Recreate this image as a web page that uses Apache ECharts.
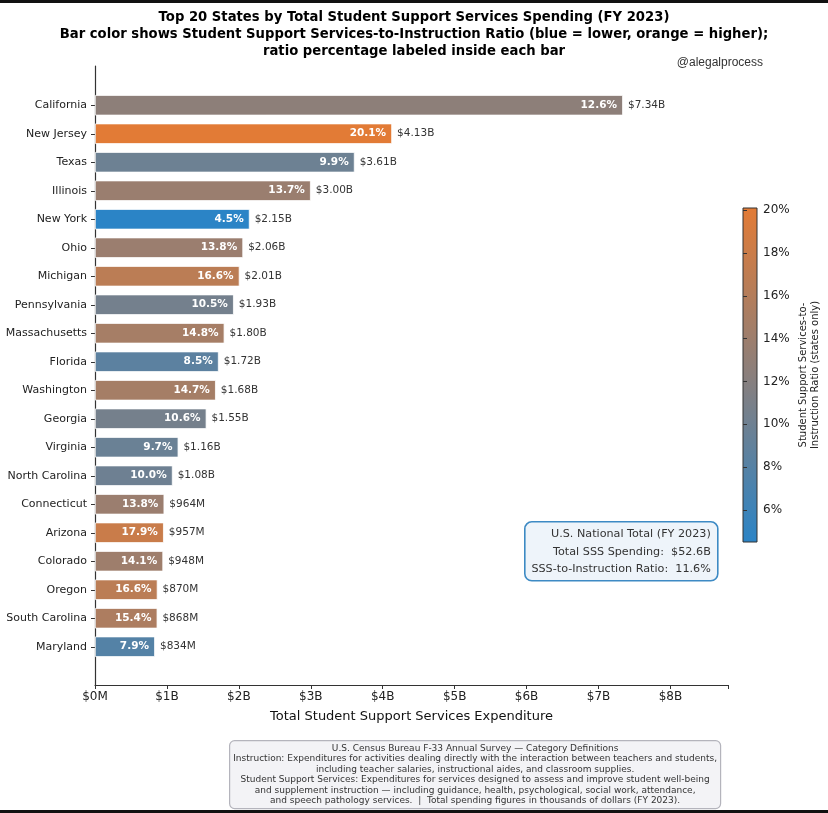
<!DOCTYPE html>
<html>
<head>
<meta charset="utf-8">
<script src="https://cdn.jsdelivr.net/npm/echarts@6/dist/echarts.min.js"></script>
<style>
  html, body { margin: 0; padding: 0; background: #fff; }
  #chart { width: 828px; height: 813px; }
</style>
</head>
<body>
<div id="chart"></div>
<script>
// top 20 states, spending in $B and SSS-to-instruction ratio in %
const states = ['California', 'New Jersey', 'Texas', 'Illinois', 'New York', 'Ohio', 'Michigan',
    'Pennsylvania', 'Massachusetts', 'Florida', 'Washington', 'Georgia', 'Virginia', 'North Carolina',
    'Connecticut', 'Arizona', 'Colorado', 'Oregon', 'South Carolina', 'Maryland'];
const spending = [7.34, 4.13, 3.61, 3.00, 2.15, 2.06, 2.01, 1.93, 1.80, 1.72, 1.68, 1.55, 1.16, 1.08,
    0.964, 0.957, 0.948, 0.870, 0.868, 0.834];
const ratio = [12.6, 20.1, 9.9, 13.7, 4.5, 13.8, 16.6, 10.5, 14.8, 8.5, 14.7, 10.6, 9.7, 10.0,
    13.8, 17.9, 14.1, 16.6, 15.4, 7.9];
const xTicks = [0, 1, 2, 3, 4, 5, 6, 7, 8];
const cbarTicks = [6, 8, 10, 12, 14, 16, 18, 20];

const cmap = ['#2b84c6', '#8a7f7c', '#e27b36'];
const font = 'DejaVu Sans';

const rows = states.map((s, i) => [spending[i], s, ratio[i]]);
const money = v => v >= 1 ? '$' + v.toFixed(2) + 'B' : '$' + Math.round(v * 1000) + 'M';

const chart = echarts.init(document.getElementById('chart'), null, { renderer: 'canvas' });

chart.setOption({
    backgroundColor: '#fff',
    animation: false,
    title: [
        {
            text: 'Top 20 States by Total Student Support Services Spending (FY 2023)\n' +
                'Bar color shows Student Support Services-to-Instruction Ratio (blue = lower, orange = higher);\n' +
                'ratio percentage labeled inside each bar',
            left: 'center', top: 4,
            textStyle: { fontFamily: font, fontSize: 13.2, fontWeight: 'bold', color: '#000', lineHeight: 17, align: 'center' }
        },
        {
            text: '@alegalprocess',
            right: 60, top: 52,
            textStyle: { fontFamily: 'Liberation Sans', fontSize: 12, fontWeight: 'normal', color: '#333' }
        }
    ],
    grid: [
        { left: 95, right: 100, top: 66, bottom: 128 },
        { left: 95, right: 100, top: 91, height: 570 },
        { left: 743, width: 14, top: 208, height: 334, show: true, borderColor: '#333', borderWidth: 1,
          backgroundColor: new echarts.graphic.LinearGradient(0, 1, 0, 0, [
              { offset: 0, color: cmap[0] }, { offset: 0.5, color: cmap[1] }, { offset: 1, color: cmap[2] }
          ]) }
    ],
    xAxis: [
        {
            gridIndex: 0, type: 'value', min: 0, max: 8.8, interval: 1,
            axisLine: { show: true, lineStyle: { color: '#333', width: 1.2 } },
            axisTick: { show: true, length: 4, lineStyle: { color: '#333' } },
            axisLabel: { fontFamily: font, fontSize: 12, color: '#222', margin: 6,
                customValues: xTicks,
                formatter: v => v === 0 ? '$0M' : '$' + v + 'B' },
            splitLine: { show: false },
            name: 'Total Student Support Services Expenditure',
            nameLocation: 'middle', nameGap: 25,
            nameTextStyle: { fontFamily: font, fontSize: 13, color: '#111' }
        },
        { gridIndex: 1, type: 'value', min: 0, max: 8.8, show: false },
        { gridIndex: 2, type: 'value', show: false }
    ],
    yAxis: [
        {
            gridIndex: 0, type: 'value', min: 0, max: 1,
            axisLine: { show: true, lineStyle: { color: '#333', width: 1.2 } },
            axisTick: { show: false }, axisLabel: { show: false }, splitLine: { show: false }
        },
        {
            gridIndex: 1, type: 'category', data: states, inverse: true,
            axisLine: { show: false },
            axisTick: { show: true, alignWithLabel: true, length: 4, lineStyle: { color: '#333' } },
            axisLabel: { fontFamily: font, fontSize: 11, color: '#222', margin: 8 }
        },
        {
            gridIndex: 2, type: 'value', min: 4.5, max: 20.1, position: 'right',
            axisLine: { show: false },
            axisTick: { show: true, length: 4, customValues: cbarTicks, lineStyle: { color: '#333' } },
            axisLabel: { fontFamily: font, fontSize: 12, color: '#222', margin: 6,
                customValues: cbarTicks, formatter: '{value}%' },
            splitLine: { show: false },
            name: 'Student Support Services-to-\nInstruction Ratio (states only)',
            nameLocation: 'middle', nameRotate: 90, nameGap: 40,
            nameTextStyle: { fontFamily: font, fontSize: 10, color: '#222', lineHeight: 12 }
        }
    ],
    visualMap: {
        type: 'continuous', show: false, seriesIndex: 0, dimension: 2,
        min: 4.5, max: 20.1, inRange: { color: cmap }
    },
    series: [
        {
            type: 'bar', xAxisIndex: 1, yAxisIndex: 1,
            data: rows, encode: { x: 0, y: 1 },
            barWidth: '72%',
            itemStyle: { borderColor: '#fff', borderWidth: 0.8 },
            label: {
                show: true, position: 'insideRight', distance: 6,
                fontFamily: font, fontSize: 10.5, fontWeight: 'bold', color: '#fff',
                formatter: p => p.value[2].toFixed(1) + '%'
            }
        },
        {
            type: 'bar', xAxisIndex: 1, yAxisIndex: 1,
            data: rows, encode: { x: 0, y: 1 },
            barWidth: '72%', barGap: '-100%',
            itemStyle: { color: 'rgba(0,0,0,0)' },
            label: {
                show: true, position: 'right', distance: 5,
                fontFamily: font, fontSize: 10.5, color: '#333',
                formatter: p => money(p.value[0])
            }
        }
    ],
    graphic: [
        { type: 'rect', left: 0, top: 0, shape: { width: 828, height: 3 }, style: { fill: '#111' } },
        { type: 'rect', left: 0, top: 810, shape: { width: 828, height: 3 }, style: { fill: '#111' } },
        {
            type: 'group', left: 524, top: 521,
            children: [
                { type: 'rect', shape: { x: 0, y: 0, width: 193, height: 59, r: 7 },
                  style: { fill: '#eef4fa', stroke: '#3d8ac4', lineWidth: 1.6 } },
                { type: 'text', x: 186, y: 30,
                  style: {
                      text: 'U.S. National Total (FY 2023)\nTotal SSS Spending:  $52.6B\nSSS-to-Instruction Ratio:  11.6%',
                      align: 'right', verticalAlign: 'middle', font: '11.2px "DejaVu Sans"', fill: '#333', lineHeight: 17.5
                  } }
            ]
        },
        {
            type: 'group', left: 229, top: 740,
            children: [
                { type: 'rect', shape: { x: 0, y: 0, width: 491, height: 68, r: 5 },
                  style: { fill: '#f3f3f6', stroke: '#b4b4bc', lineWidth: 1.2 } },
                { type: 'text', x: 245.5, y: 34,
                  style: {
                      text: 'U.S. Census Bureau F-33 Annual Survey \u2014 Category Definitions\n' +
                          'Instruction: Expenditures for activities dealing directly with the interaction between teachers and students,\n' +
                          'including teacher salaries, instructional aides, and classroom supplies.\n' +
                          'Student Support Services: Expenditures for services designed to assess and improve student well-being\n' +
                          'and supplement instruction \u2014 including guidance, health, psychological, social work, attendance,\n' +
                          'and speech pathology services.  |  Total spending figures in thousands of dollars (FY 2023).',
                      align: 'center', verticalAlign: 'middle', font: '9px "DejaVu Sans"', fill: '#333', lineHeight: 10.5
                  } }
            ]
        }
    ]
});
</script>
</body>
</html>
